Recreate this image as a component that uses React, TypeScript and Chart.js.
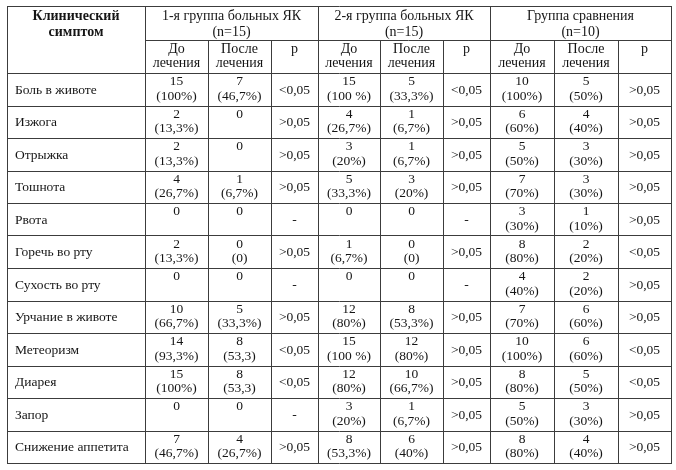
import React, { useEffect, useRef } from "react";
import { Chart, registerables } from "chart.js";

Chart.register(...registerables);

// ---------- data ----------
const symptoms = [
  "Боль в животе",
  "Изжога",
  "Отрыжка",
  "Тошнота",
  "Рвота",
  "Горечь во рту",
  "Сухость во рту",
  "Урчание в животе",
  "Метеоризм",
  "Диарея",
  "Запор",
  "Снижение аппетита",
];

const g1Before = [15, 2, 2, 4, 0, 2, 0, 10, 14, 15, 0, 7];
const g1BeforePct = ["(100%)", "(13,3%)", "(13,3%)", "(26,7%)", "", "(13,3%)", "", "(66,7%)", "(93,3%)", "(100%)", "", "(46,7%)"];
const g1After = [7, 0, 0, 1, 0, 0, 0, 5, 8, 8, 0, 4];
const g1AfterPct = ["(46,7%)", "", "", "(6,7%)", "", "(0)", "", "(33,3%)", "(53,3)", "(53,3)", "", "(26,7%)"];
const g1P = ["<0,05", ">0,05", ">0,05", ">0,05", "-", ">0,05", "-", ">0,05", "<0,05", "<0,05", "-", ">0,05"];

const g2Before = [15, 4, 3, 5, 0, 1, 0, 12, 15, 12, 3, 8];
const g2BeforePct = ["(100 %)", "(26,7%)", "(20%)", "(33,3%)", "", "(6,7%)", "", "(80%)", "(100 %)", "(80%)", "(20%)", "(53,3%)"];
const g2After = [5, 1, 1, 3, 0, 0, 0, 8, 12, 10, 1, 6];
const g2AfterPct = ["(33,3%)", "(6,7%)", "(6,7%)", "(20%)", "", "(0)", "", "(53,3%)", "(80%)", "(66,7%)", "(6,7%)", "(40%)"];
const g2P = ["<0,05", ">0,05", ">0,05", ">0,05", "-", ">0,05", "-", ">0,05", ">0,05", ">0,05", ">0,05", ">0,05"];

const g3Before = [10, 6, 5, 7, 3, 8, 4, 7, 10, 8, 5, 8];
const g3BeforePct = ["(100%)", "(60%)", "(50%)", "(70%)", "(30%)", "(80%)", "(40%)", "(70%)", "(100%)", "(80%)", "(50%)", "(80%)"];
const g3After = [5, 4, 3, 3, 1, 2, 2, 6, 6, 5, 3, 4];
const g3AfterPct = ["(50%)", "(40%)", "(30%)", "(30%)", "(10%)", "(20%)", "(20%)", "(60%)", "(60%)", "(50%)", "(30%)", "(40%)"];
const g3P = [">0,05", ">0,05", ">0,05", ">0,05", ">0,05", "<0,05", ">0,05", ">0,05", "<0,05", "<0,05", ">0,05", ">0,05"];

const firstHeader = ["Клинический", "симптом"];
const groupTitles = ["1-я группа больных ЯК", "2-я группа больных ЯК", "Группа сравнения"];
const groupSizes = ["(n=15)", "(n=15)", "(n=10)"];
const subHeaders = [["До", "лечения"], ["После", "лечения"], ["р"]];

// ---------- layout (table units) ----------
const colEdges = [0, 138, 201, 264, 311, 373, 436, 483, 547, 611, 664];
const headerEdges = [0, 34, 67];
const dataRowHeight = 32.5;
const rowTop = (i: number) => headerEdges[2] + i * dataRowHeight;
const tableHeight = rowTop(symptoms.length);
const colCenter = (c: number) => (colEdges[c] + colEdges[c + 1]) / 2;

const groups = [
  [g1Before, g1BeforePct, g1After, g1AfterPct, g1P],
  [g2Before, g2BeforePct, g2After, g2AfterPct, g2P],
  [g3Before, g3BeforePct, g3After, g3AfterPct, g3P],
] as const;

const FONT = '"Liberation Serif", "Times New Roman", serif';
const TEXT = "#151515";
const LINE = "#3c3c3c";

type Pt = { x: number; y: number; lines: string[]; kind: string; align: CanvasTextAlign };

function buildDatasets() {
  const ds: any[] = [];
  // header
  const header: Pt[] = [];
  header.push({ x: colCenter(0), y: 0, lines: firstHeader, kind: "head-bold", align: "center" });
  groupTitles.forEach((t, g) => {
    header.push({ x: (colEdges[1 + 3 * g] + colEdges[4 + 3 * g]) / 2, y: 0, lines: [t, groupSizes[g]], kind: "head", align: "center" });
    subHeaders.forEach((s, k) => {
      header.push({ x: colCenter(1 + 3 * g + k), y: headerEdges[1], lines: s, kind: "sub", align: "center" });
    });
  });
  ds.push({ label: "header", data: header, pointRadius: 0 });
  // symptom labels
  ds.push({
    label: "symptoms",
    data: symptoms.map((s, i) => ({ x: colEdges[0] + 8, y: rowTop(i), lines: [s], kind: "mid", align: "left" })),
    pointRadius: 0,
  });
  groups.forEach(([before, beforePct, after, afterPct, p], g) => {
    const mk = (counts: number[], pcts: string[], c: number, name: string) => ({
      label: name,
      data: counts.map((v, i) => ({
        x: colCenter(c),
        y: rowTop(i),
        lines: pcts[i] ? [String(v), pcts[i]] : [String(v)],
        kind: "two",
        align: "center",
      })),
      pointRadius: 0,
    });
    ds.push(mk(before as number[], beforePct as string[], 1 + 3 * g, `g${g + 1}-before`));
    ds.push(mk(after as number[], afterPct as string[], 2 + 3 * g, `g${g + 1}-after`));
    ds.push({
      label: `g${g + 1}-p`,
      data: (p as string[]).map((v, i) => ({ x: colCenter(3 + 3 * g), y: rowTop(i), lines: [v], kind: "mid", align: "center" })),
      pointRadius: 0,
    });
  });
  return ds;
}

const gridPlugin = {
  id: "tableGrid",
  beforeDatasetsDraw(chart: any) {
    const { ctx, scales } = chart;
    const xs = scales.x, ys = scales.y;
    const px = (v: number) => Math.round(xs.getPixelForValue(v)) + 0.5;
    const py = (v: number) => Math.round(ys.getPixelForValue(v)) + 0.5;
    ctx.save();
    ctx.strokeStyle = LINE;
    ctx.lineWidth = 1;
    ctx.beginPath();
    const h = (y: number, x0: number, x1: number) => {
      ctx.moveTo(px(x0) - 0.5, py(y));
      ctx.lineTo(px(x1) + 0.5, py(y));
    };
    const v = (x: number, y0: number, y1: number) => {
      ctx.moveTo(px(x), py(y0) - 0.5);
      ctx.lineTo(px(x), py(y1) + 0.5);
    };
    const last = colEdges[colEdges.length - 1];
    h(0, 0, last);
    h(headerEdges[1], colEdges[1], last);
    for (let i = 0; i <= symptoms.length; i++) h(rowTop(i), 0, last);
    colEdges.forEach((x, c) => {
      const full = c === 0 || (c - 1) % 3 === 0;
      v(x, full ? 0 : headerEdges[1], tableHeight);
    });
    ctx.stroke();
    ctx.restore();
  },
};

const textPlugin = {
  id: "tableText",
  afterDatasetsDraw(chart: any) {
    const { ctx } = chart;
    ctx.save();
    ctx.fillStyle = TEXT;
    ctx.textBaseline = "alphabetic";
    chart.data.datasets.forEach((dsObj: any, di: number) => {
      const meta = chart.getDatasetMeta(di);
      meta.data.forEach((el: any, i: number) => {
        const raw: Pt = dsObj.data[i];
        ctx.textAlign = raw.align;
        let baselines: number[] = [];
        if (raw.kind === "head-bold") {
          ctx.font = `bold 14px ${FONT}`;
          baselines = [14, 30];
        } else if (raw.kind === "head") {
          ctx.font = `14px ${FONT}`;
          baselines = [14, 30];
        } else if (raw.kind === "sub") {
          ctx.font = `14px ${FONT}`;
          baselines = [13, 27];
        } else if (raw.kind === "two") {
          ctx.font = `13.5px ${FONT}`;
          baselines = [12, 26.5];
        } else {
          ctx.font = `13.5px ${FONT}`;
          baselines = [20.5];
        }
        raw.lines.forEach((t, k) => {
          ctx.fillText(t, el.x, el.y + baselines[k]);
        });
      });
    });
    ctx.restore();
  },
};

export default function App() {
  const ref = useRef<HTMLCanvasElement>(null);
  useEffect(() => {
    if (!ref.current) return;
    const chart = new Chart(ref.current, {
      type: "scatter",
      data: { datasets: buildDatasets() },
      options: {
        responsive: false,
        animation: false,
        events: [],
        devicePixelRatio: 1,
        layout: { padding: { left: 7, top: 6, right: 5, bottom: 7 } },
        plugins: { legend: { display: false }, tooltip: { enabled: false } },
        scales: {
          x: { type: "linear", min: 0, max: colEdges[colEdges.length - 1], display: false },
          y: { type: "linear", min: 0, max: tableHeight, reverse: true, display: false },
        },
      },
      plugins: [gridPlugin, textPlugin],
    });
    return () => chart.destroy();
  }, []);
  return (
    <div style={{ position: "fixed", left: 0, top: 0, width: 676, height: 470, background: "#fff" }}>
      <canvas ref={ref} width={676} height={470} />
    </div>
  );
}
